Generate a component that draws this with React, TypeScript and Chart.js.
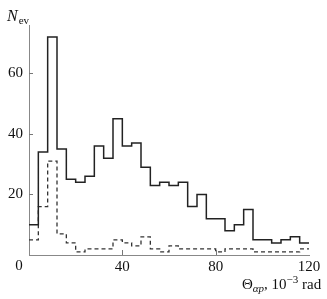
import React, { useEffect, useRef } from 'react';
import { Chart, registerables } from 'chart.js';

Chart.register(...registerables);

// Histogram bins (left edges, 10^-3 rad) and counts
const binStarts = [0, 4, 8, 12, 16, 20, 24, 28, 32, 36, 40, 44, 48, 52, 56, 60, 64, 68, 72, 76, 80, 84, 88, 92, 96, 100, 104, 108, 112, 116];
const binEnd = 120;
const solidCounts = [10, 34, 72, 35, 25, 24, 26, 36, 32, 45, 36, 37, 29, 23, 24, 23, 24, 16, 20, 12, 12, 8, 10, 15, 5, 5, 4, 5, 6, 4];
const dashedCounts = [5, 16, 31, 7, 4, 1, 2, 2, 2, 5, 4, 3, 6, 2, 1, 3, 2, 2, 2, 2, 1, 2, 2, 2, 1, 1, 1, 1, 1, 2];
const xTickValues = [40, 80, 120];
const yTickValues = [20, 40, 60];
const yTitleMain = 'N';
const yTitleSub = 'ev';

const SERIF = "'Liberation Serif', 'DejaVu Serif', serif";

function stepPoints(counts: number[]) {
  const pts = binStarts.map((x, i) => ({ x, y: counts[i] }));
  pts.push({ x: binEnd, y: counts[counts.length - 1] });
  return pts;
}

const decorPlugin = {
  id: 'decor',
  afterDraw(chart: any) {
    const ctx = chart.ctx as CanvasRenderingContext2D;
    const xs = chart.scales.x;
    const ys = chart.scales.y;
    const area = chart.chartArea;
    ctx.save();
    // inward tick marks
    ctx.strokeStyle = '#777';
    ctx.lineWidth = 1;
    ctx.beginPath();
    for (const v of yTickValues) {
      const py = Math.round(ys.getPixelForValue(v)) + 0.5;
      ctx.moveTo(area.left, py);
      ctx.lineTo(area.left + 4, py);
    }
    for (const v of xTickValues.slice(0, -1)) {
      const px = Math.round(xs.getPixelForValue(v)) + 0.5;
      ctx.moveTo(px, area.bottom);
      ctx.lineTo(px, area.bottom - 5);
    }
    ctx.stroke();

    ctx.fillStyle = '#111';
    ctx.textBaseline = 'alphabetic';
    // corner zero
    ctx.font = `15px ${SERIF}`;
    ctx.textAlign = 'center';
    ctx.fillText('0', 19, 270);

    // y title N_ev
    ctx.textAlign = 'left';
    ctx.font = `italic 16px ${SERIF}`;
    ctx.fillText(yTitleMain, 7, 21);
    const nW = ctx.measureText(yTitleMain).width;
    ctx.font = `11px ${SERIF}`;
    ctx.fillText(yTitleSub, 7 + nW + 1, 24);

    // x title Θ_αp, 10^-3 rad
    const segs: { t: string; f: string; dy: number }[] = [
      { t: 'Θ', f: `15px ${SERIF}`, dy: 0 },
      { t: 'αp', f: `italic 11px ${SERIF}`, dy: 3 },
      { t: ', 10', f: `15px ${SERIF}`, dy: 0 },
      { t: '−3', f: `11px ${SERIF}`, dy: -6 },
      { t: ' rad', f: `15px ${SERIF}`, dy: 0 },
    ];
    let x = 242;
    const base = 289;
    for (const s of segs) {
      ctx.font = s.f;
      ctx.fillText(s.t, x, base + s.dy);
      x += ctx.measureText(s.t).width;
    }
    ctx.restore();
  },
};

export default function App() {
  const ref = useRef<HTMLCanvasElement | null>(null);
  useEffect(() => {
    if (!ref.current) return;
    const chart = new Chart(ref.current, {
      type: 'line',
      data: {
        datasets: [
          {
            data: stepPoints(solidCounts),
            stepped: 'before',
            borderColor: '#222',
            borderWidth: 1.5,
            pointRadius: 0,
            fill: false,
          },
          {
            data: stepPoints(dashedCounts),
            stepped: 'before',
            borderColor: '#333',
            borderWidth: 1.3,
            borderDash: [4, 3],
            pointRadius: 0,
            fill: false,
          },
        ],
      },
      options: {
        animation: false,
        responsive: false,
        maintainAspectRatio: false,
        layout: { padding: { left: 0, right: 18, top: 25, bottom: 0 } },
        plugins: { legend: { display: false }, tooltip: { enabled: false }, title: { display: false } },
        scales: {
          x: {
            type: 'linear',
            min: 0,
            max: 120,
            grid: { display: false, drawTicks: false },
            border: { display: true, color: '#888', width: 1 },
            ticks: {
              stepSize: 40,
              padding: 3,
              maxRotation: 0,
              color: '#111',
              font: { family: SERIF, size: 15 },
              callback: (v: any) => (xTickValues.includes(Number(v)) ? String(v) : ''),
            },
            afterFit: (s: any) => {
              s.height = 44;
            },
          },
          y: {
            type: 'linear',
            min: 0,
            max: 76,
            grid: { display: false, drawTicks: false },
            border: { display: true, color: '#888', width: 1 },
            ticks: {
              stepSize: 20,
              includeBounds: false,
              padding: 6,
              color: '#111',
              font: { family: SERIF, size: 15 },
              callback: (v: any) => (yTickValues.includes(Number(v)) ? String(v) : ''),
            },
            afterFit: (s: any) => {
              s.width = 29;
            },
          },
        },
      },
      plugins: [decorPlugin],
    } as any);
    return () => chart.destroy();
  }, []);
  return (
    <div style={{ position: 'absolute', left: 0, top: 0, width: 327, height: 299, background: '#fff' }}>
      <canvas ref={ref} width={327} height={299} style={{ width: 327, height: 299 }} />
    </div>
  );
}
